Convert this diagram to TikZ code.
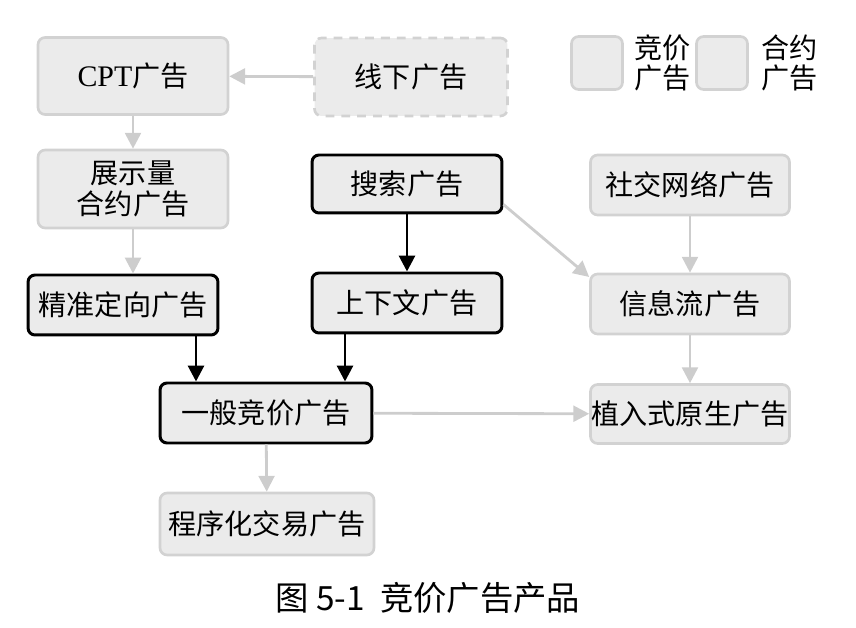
\documentclass[tikz,border=0pt]{standalone}
\usepackage{fontspec}
\setmainfont{Liberation Serif}
\newfontfamily\cjk{Noto Sans CJK SC}
\usetikzlibrary{arrows.meta, positioning}

\definecolor{boxfill}{RGB}{235,235,235}
\definecolor{boxline}{RGB}{210,210,210}
\definecolor{linkgray}{RGB}{205,205,205}

\begin{document}
\begin{tikzpicture}[x=0.02cm, y=-0.02cm,
    adbox/.style={draw=boxline, line width=1.5pt, fill=boxfill, rounded corners=4pt,
        minimum width=3.8cm, minimum height=1.2cm, inner sep=0pt, align=center,
        font=\fontsize{16}{18}\selectfont\cjk},
    bidbox/.style={adbox, draw=black, line width=1.7pt},
    offbox/.style={adbox, dash pattern=on 5pt off 4pt},
    keybox/.style={adbox, minimum width=1.02cm, minimum height=1.06cm},
    keytext/.style={align=left, inner sep=0pt, font=\fontsize{16}{17}\selectfont\cjk},
    graylink/.style={draw=linkgray, line width=1.6pt, -{Triangle[length=9pt,width=9pt]}},
    blacklink/.style={draw=black, line width=1.7pt, -{Triangle[length=9pt,width=9pt]}}
]
    \useasboundingbox (0,0) rectangle (856,628);

    % --- CONTRACT SIDE ---
    \node[adbox, minimum height=1.54cm] (cpt) at (133,76) {{\rmfamily\fontsize{17}{18}\selectfont CPT}广告};
    \node[offbox, minimum height=1.56cm, minimum width=3.86cm] (offline) at (411,77) {线下广告};
    \node[adbox, minimum height=1.56cm] (contract) at (133,189) {展示量\\合约广告};

    % --- BIDDING SIDE ---
    \node[bidbox, minimum height=1.16cm] (search) at (407,184) {搜索广告};
    \node[bidbox] (targeted) at (123,305) {精准定向广告};
    \node[bidbox] (context) at (407,303) {上下文广告};
    \node[bidbox, minimum width=4.24cm] (bidding) at (266,413) {一般竞价广告};
    \node[adbox, minimum width=4.28cm, minimum height=1.24cm] (programmatic) at (267,524) {程序化交易广告};

    % --- NATIVE SIDE ---
    \node[adbox, minimum width=3.98cm] (social) at (690,185) {社交网络广告};
    \node[adbox, minimum width=3.98cm] (feed) at (690,304) {信息流广告};
    \node[adbox, minimum width=3.98cm, minimum height=1.18cm] (native) at (690,414) {植入式原生广告};

    % --- LEGEND ---
    \node[keybox] (bidkey) at (597,63) {};
    \node[keytext, right=0.2cm of bidkey] (bidkeytext) {竞价\\广告};
    \node[keybox] (contractkey) at (722,63) {};
    \node[keytext, right=0.24cm of contractkey] (contractkeytext) {合约\\广告};

    % --- LINKS ---
    \draw[graylink] (offline) -- (cpt);
    \draw[graylink] (cpt) -- (contract);
    \draw[graylink] (contract.south) -- (contract.south |- targeted.north);
    \draw[blacklink] (search) -- (context);
    \draw[blacklink] (targeted.south -| 196,0) -- (bidding.north -| 196,0);
    \draw[blacklink] (context.south -| 345,0) -- (bidding.north -| 345,0);
    \draw[graylink] (bidding) -- (programmatic);
    \draw[graylink] (bidding) -- (native);
    \draw[graylink] (search.-12) -- (feed.165);
    \draw[graylink] (social) -- (feed);
    \draw[graylink] (feed) -- (native);

    % --- CAPTION ---
    \node[font=\fontsize{19}{22}\selectfont\cjk] (caption) at (428,598) {图 5-1\ \ 竞价广告产品};
\end{tikzpicture}
\end{document}
